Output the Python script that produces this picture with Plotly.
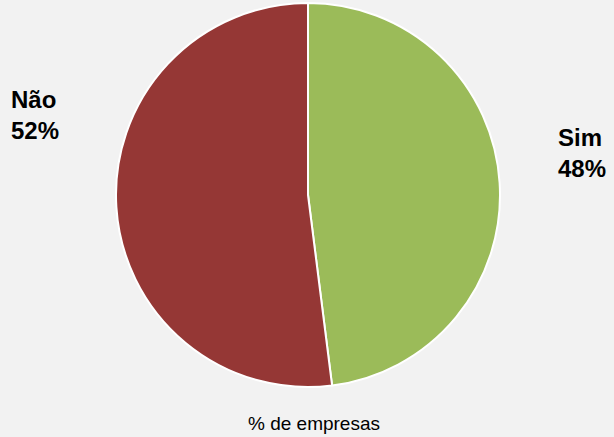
import plotly.graph_objects as go

labels = ["Sim", "Não"]
values = [48, 52]
colors = ["#9bbb59", "#953735"]
title_text = "% de empresas"

W, H = 614, 437
cx, cy, r = 308, 195, 192

fig = go.Figure(go.Pie(
    labels=labels,
    values=values,
    marker=dict(colors=colors, line=dict(color="white", width=2)),
    sort=False,
    direction="clockwise",
    rotation=0,
    textinfo="none",
    hoverinfo="label+percent",
    domain=dict(x=[(cx - r) / W, (cx + r) / W], y=[(H - cy - r) / H, (H - cy + r) / H]),
    showlegend=False,
))

total = sum(values)
pct = {l: f"{round(v / total * 100)}%" for l, v in zip(labels, values)}
label_pos = {"Não": (9 / W, (H - 115) / H), "Sim": (556 / W, (H - 153) / H)}
for l in labels:
    x, y = label_pos[l]
    fig.add_annotation(
        x=x, y=y, xref="paper", yref="paper", xanchor="left", yanchor="middle",
        text=f"<b>{l}<br>{pct[l]}</b>", showarrow=False, align="left",
        font=dict(family="Liberation Sans, Arial", size=24, color="black"),
    )

fig.add_annotation(
    x=314 / W, y=(H - 423) / H, xref="paper", yref="paper",
    xanchor="center", yanchor="middle", text=title_text, showarrow=False,
    font=dict(family="Liberation Sans, Arial", size=19, color="black"),
)

fig.update_layout(
    width=W, height=H,
    margin=dict(l=0, r=0, t=0, b=0),
    paper_bgcolor="#f2f2f2",
    plot_bgcolor="#f2f2f2",
)

fig.write_html(
    "out.html",
    config={"displayModeBar": False},
    post_script="document.body.style.margin='0';document.body.style.overflow='hidden';document.documentElement.style.overflow='hidden';",
)
